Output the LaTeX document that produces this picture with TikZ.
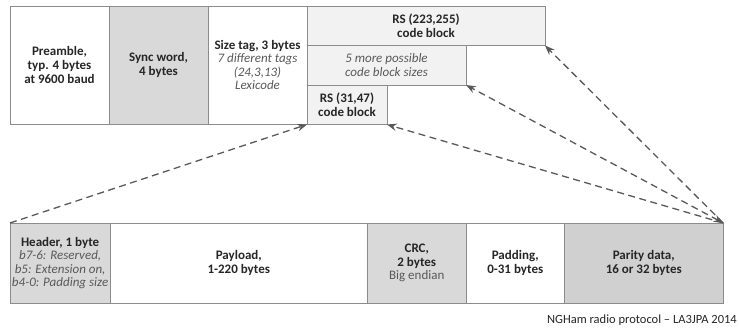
\documentclass[tikz,border=0pt]{standalone}
\usepackage{fontspec}
\setmainfont{Carlito}
\usetikzlibrary{positioning,arrows.meta}
\definecolor{edgegray}{HTML}{8C8C8C}
\definecolor{fieldgray}{HTML}{D9D9D9}
\definecolor{paritygray}{HTML}{D0D0D0}
\definecolor{blockgray}{HTML}{F2F2F2}
\definecolor{textgray}{HTML}{262626}
\definecolor{notegray}{HTML}{595959}
\newcommand{\fieldnote}[1]{{\color{notegray}\itshape #1}}
\tikzset{
  >={Stealth[length=3.4mm,width=2.6mm]},
  x=1pt,y=-1pt,
  field/.style={draw=edgegray,line width=0.8pt,inner sep=2pt,outer sep=0pt,
    align=center,text=textgray,font=\fontsize{13}{13.6}\selectfont},
  topfield/.style={field,minimum width=99pt,minimum height=118pt},
  lowfield/.style={field,minimum height=80pt},
  codeblk/.style={field,fill=blockgray,anchor=north west,minimum height=39.5pt},
  link/.style={draw=notegray,line width=1.3pt,dash pattern=on 7pt off 4.5pt},
  credit/.style={font=\fontsize{12.5}{15}\selectfont,text=textgray,inner sep=0pt},
}
\begin{document}
\begin{tikzpicture}
  \useasboundingbox (0,0) rectangle (739,330);
  % radio frame
  \node[topfield,anchor=north west] (pre) at (10,6)
    {\textbf{Preamble,}\\ \textbf{typ. 4 bytes}\\ \textbf{at 9600 baud}};
  \node[topfield,fill=fieldgray,right=0pt of pre] (sync)
    {\textbf{Sync word,}\\ \textbf{4 bytes}};
  \node[topfield,right=0pt of sync] (tag)
    {\textbf{Size tag, 3 bytes}\\ \fieldnote{7 different tags}\\
     \fieldnote{(24,3,13)}\\ \fieldnote{Lexicode}};
  \node[codeblk,minimum width=238pt] (rsbig) at (tag.north east)
    {\textbf{RS (223,255)}\\ \textbf{code block}};
  \node[codeblk,minimum width=159pt] (more) at (rsbig.south west)
    {\fieldnote{5 more possible}\\ \fieldnote{code block sizes}};
  \node[codeblk,minimum width=80pt] (rssmall) at (more.south west)
    {\textbf{RS (31,47)}\\ \textbf{code block}};

  % code block contents
  \node[lowfield,fill=fieldgray,minimum width=100pt,anchor=north west] (head) at (10,223)
    {\textbf{Header, 1 byte}\\ \fieldnote{b7-6: Reserved,}\\
     \fieldnote{b5: Extension on,}\\ \fieldnote{b4-0: Padding size}};
  \node[lowfield,minimum width=257pt,right=0pt of head] (payload)
    {\textbf{Payload,}\\ \textbf{1-220 bytes}};
  \node[lowfield,fill=fieldgray,minimum width=99pt,right=0pt of payload] (crc)
    {\textbf{CRC,}\\ \textbf{2 bytes}\\ {\color{notegray}Big endian}};
  \node[lowfield,minimum width=98pt,right=0pt of crc] (pad)
    {\textbf{Padding,}\\ \textbf{0-31 bytes}};
  \node[lowfield,fill=paritygray,minimum width=159pt,right=0pt of pad] (parity)
    {\textbf{Parity data,}\\ \textbf{16 or 32 bytes}};

  \draw[link,->] (head.north west) -- (rssmall.south west);
  \draw[link,->] (parity.north east) -- (rssmall.south east);
  \draw[link,<->] (parity.north east) -- (more.south east);
  \draw[link,->] (parity.north east) -- (rsbig.south east);

  \node[credit,anchor=base east] (cap) at (737,323)
    {NGHam radio protocol -- LA3JPA 2014};
\end{tikzpicture}
\end{document}
